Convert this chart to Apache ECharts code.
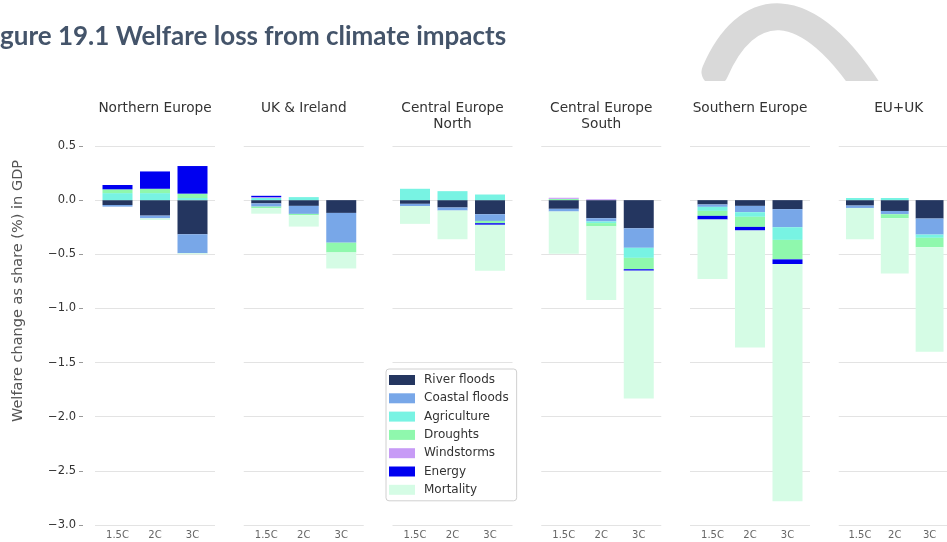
<!DOCTYPE html>
<html>
<head>
<meta charset="utf-8">
<script src="https://cdn.jsdelivr.net/npm/echarts@6/dist/echarts.min.js"></script>
<style>
  html, body { margin: 0; padding: 0; background: #ffffff; }
  #chart { width: 947px; height: 542px; }
</style>
</head>
<body>
<div id="chart"></div>
<script>
// Welfare change (% of GDP) by region, warming scenario and impact type
const scenarios = ['1.5C', '2C', '3C'];
const regions = ['Northern Europe', 'UK & Ireland', 'Central Europe\nNorth', 'Central Europe\nSouth', 'Southern Europe', 'EU+UK'];
const impacts = ['River floods', 'Coastal floods', 'Agriculture', 'Droughts', 'Windstorms', 'Energy', 'Mortality'];
const impactColors = ['#243660', '#78a7e8', '#78f3e3', '#8ff8ad', '#c79bf6', '#0000f0', '#d5fce5'];
const yTicks = { min: -3.0, max: 0.5, step: 0.5 };

// one row per region, one value per scenario
const riverFloods   = [[-0.045, -0.143, -0.315], [-0.030, -0.053, -0.118], [-0.034, -0.068, -0.130], [-0.080, -0.167, -0.260], [-0.040, -0.053, -0.083], [-0.050, -0.100, -0.170]];
const coastalFloods = [[-0.015, -0.025, -0.175], [-0.030, -0.074, -0.275], [-0.020, -0.028, -0.062], [-0.025, -0.030, -0.180], [-0.022, -0.058, -0.167], [-0.022, -0.030, -0.148]];
const agriculture   = [[0.065, 0.065, 0.020], [0.020, 0.028, 0.000], [0.105, 0.083, 0.052], [0.000, -0.015, -0.093], [-0.037, -0.043, -0.117], [0.020, 0.020, -0.030]];
const droughts      = [[0.035, 0.040, 0.040], [-0.015, -0.012, -0.090], [0.000, 0.000, -0.021], [0.012, -0.030, -0.105], [-0.046, -0.093, -0.180], [0.000, -0.037, -0.087]];
const windstorms    = [[0.000, 0.000, 0.000], [0.008, 0.000, 0.000], [0.000, 0.000, 0.000], [0.010, 0.008, 0.000], [0.000, 0.000, 0.000], [0.000, 0.000, 0.000]];
const energy        = [[0.040, 0.160, 0.255], [0.012, 0.000, 0.000], [0.000, 0.000, -0.015], [0.000, 0.000, -0.013], [-0.034, -0.033, -0.043], [0.000, 0.000, 0.000]];
const mortality     = [[0.000, -0.015, -0.010], [-0.050, -0.105, -0.148], [-0.165, -0.265, -0.425], [-0.390, -0.680, -1.180], [-0.550, -1.080, -2.190], [-0.290, -0.510, -0.965]];

const impactValues = [riverFloods, coastalFloods, agriculture, droughts, windstorms, energy, mortality];

// panel geometry: each panel spans 3.2 category widths; bars fill 80% of a category
const panelLeft0 = 95, panelPitch = 148.75, panelWidth = 120, panelTop = 146, panelHeight = 379;
const catWidth = panelWidth / 3.2;
const barInset = (panelWidth - 3 * catWidth) / 2;

const grids = [], xAxes = [], yAxes = [], series = [], graphics = [];
const txt = '#333333';

const yBase = {
  type: 'value', min: yTicks.min, max: yTicks.max, interval: yTicks.step,
  axisLine: { show: false, onZero: false }
};

regions.forEach((region, r) => {
  const left = panelLeft0 + r * panelPitch;
  // background panel: grid lines and the shared y scale labels
  const gb = grids.length;
  grids.push({ left: left, top: panelTop, width: panelWidth, height: panelHeight });
  xAxes.push({ type: 'category', gridIndex: gb, data: scenarios, show: false });
  yAxes.push(Object.assign({}, yBase, {
    gridIndex: gb,
    offset: r === 0 ? 12 : 0,
    axisTick: { show: r === 0, length: 4, lineStyle: { color: '#999999' } },
    axisLabel: {
      show: r === 0, color: txt, fontSize: 11.5, fontFamily: 'DejaVu Sans', margin: 7,
      formatter: v => (v < 0 ? '\u2212' : '') + Math.abs(v).toFixed(1)
    },
    splitLine: { show: true, lineStyle: { color: '#e3e3e3', width: 1 } }
  }));
  // bar panel: three categories, same y scale
  const gi = grids.length;
  grids.push({ left: left + barInset, top: panelTop, width: 3 * catWidth, height: panelHeight });
  xAxes.push({
    type: 'category', gridIndex: gi, data: scenarios,
    axisLine: { show: false }, axisTick: { show: false },
    axisLabel: { color: '#666666', fontSize: 10, fontFamily: 'DejaVu Sans', margin: 5 }
  });
  yAxes.push(Object.assign({}, yBase, {
    gridIndex: gi, axisTick: { show: false }, axisLabel: { show: false }, splitLine: { show: false }
  }));
  impacts.forEach((name, k) => {
    series.push({
      type: 'bar', name: name, xAxisIndex: gi, yAxisIndex: gi, stack: 'region' + r,
      barCategoryGap: '20%',
      data: impactValues[k][r],
      itemStyle: { color: impactColors[k] },
      emphasis: { disabled: true },
      animation: false
    });
  });
  graphics.push({
    type: 'text', z: 5,
    x: left + panelWidth / 2, y: 100,
    style: {
      text: region, fill: txt, font: '13.7px "DejaVu Sans"',
      textAlign: 'center', textVerticalAlign: 'top', lineHeight: 16
    }
  });
});

// y axis title
graphics.push({
  type: 'text', x: 18, y: 291, rotation: Math.PI / 2, z: 5,
  style: {
    text: 'Welfare change as share (%) in GDP', fill: '#555555',
    font: '14.5px "DejaVu Sans"', textAlign: 'center', textVerticalAlign: 'middle'
  }
});

// figure caption
graphics.push({
  type: 'text', x: 0, y: 37, z: 5,
  style: {
    text: 'gure 19.1 Welfare loss from climate impacts', fill: '#44546a',
    font: 'bold 26px Lato', textAlign: 'left', textVerticalAlign: 'middle'
  }
});

// decorative grey arc in the page corner, trimmed where the figure begins
graphics.push({
  type: 'bezierCurve', z: 0,
  shape: { x1: 715, y1: 72, cpx1: 745, cpy1: 2, cpx2: 805, cpy2: -15, x2: 876, y2: 102 },
  style: { stroke: '#d9d9d9', lineWidth: 27, lineCap: 'round', fill: null }
});
graphics.push({
  type: 'rect', z: 1,
  shape: { x: 660, y: 81, width: 287, height: 40 },
  style: { fill: '#ffffff' }
});

const option = {
  backgroundColor: '#ffffff',
  animation: false,
  grid: grids,
  xAxis: xAxes,
  yAxis: yAxes,
  series: series,
  legend: {
    data: impacts, orient: 'vertical', left: 386, top: 369,
    icon: 'rect', itemWidth: 26, itemHeight: 10, itemGap: 6.3,
    padding: [5, 8, 5, 3],
    backgroundColor: '#ffffff', borderColor: '#d0d0d0', borderWidth: 1, borderRadius: 3,
    textStyle: { color: txt, fontSize: 12, fontFamily: 'DejaVu Sans', padding: [0, 0, 0, 4] },
    selectedMode: false
  },
  graphic: graphics
};

const chart = echarts.init(document.getElementById('chart'), null, { renderer: 'canvas' });
chart.setOption(option);
</script>
</body>
</html>
